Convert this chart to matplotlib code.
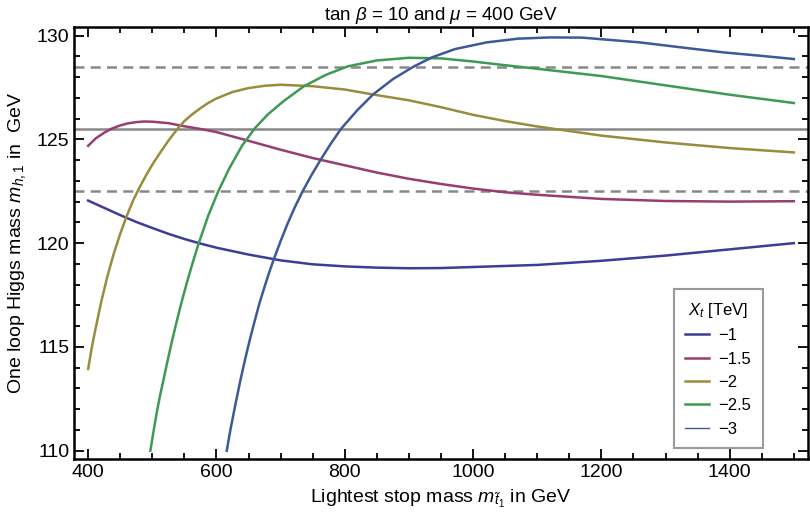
import numpy as np
import matplotlib.pyplot as plt
from matplotlib.ticker import MultipleLocator

plt.rcParams['font.family'] = ['Liberation Sans', 'DejaVu Sans']
plt.rcParams['mathtext.fontset'] = 'custom'
plt.rcParams['mathtext.rm'] = 'Liberation Sans'
plt.rcParams['mathtext.it'] = 'Liberation Sans:italic'

# X_t = -1
x_m1 = [400, 425, 450, 475, 500, 525, 550, 575, 600, 650, 700, 750, 800, 850, 900, 950, 1000, 1100, 1200, 1300,
        1400, 1500]
y_m1 = [122.05, 121.7, 121.35, 121.02, 120.73, 120.45, 120.2, 119.98, 119.78, 119.45, 119.17, 118.98, 118.88, 118.82,
        118.79, 118.8, 118.85, 118.95, 119.15, 119.4, 119.7, 120.0]

# X_t = -1.5
x_m15 = [400, 412, 425, 437, 450, 462, 475, 487, 500, 525, 550, 575, 600, 650, 700, 750, 800, 850, 900, 950, 1000,
         1050, 1100, 1200, 1300, 1400, 1500]
y_m15 = [124.69, 125.05, 125.32, 125.52, 125.67, 125.77, 125.83, 125.86, 125.85, 125.78, 125.63, 125.5, 125.35,
         124.93, 124.5, 124.1, 123.75, 123.4, 123.1, 122.85, 122.63, 122.45, 122.33, 122.13, 122.03, 122.0, 122.02]

# X_t = -2
x_m2 = [400, 405, 410, 420, 430, 440, 450, 460, 470, 480, 490, 500, 512, 525, 539, 550, 562, 575, 587, 600, 625,
        650, 675, 700, 750, 800, 850, 900, 950, 1000, 1050, 1100, 1150, 1200, 1300, 1400, 1500]
y_m2 = [113.94, 114.85, 115.65, 117.12, 118.4, 119.5, 120.45, 121.3, 122.05, 122.68, 123.25, 123.78, 124.35, 124.93,
        125.5, 125.88, 126.2, 126.5, 126.75, 126.97, 127.28, 127.47, 127.58, 127.63, 127.56, 127.4, 127.13, 126.88,
        126.55, 126.18, 125.88, 125.62, 125.4, 125.18, 124.85, 124.58, 124.37]

# X_t = -2.5
x_m25 = [497, 502, 507, 512, 517, 523, 530, 537, 545, 553, 562, 572, 587, 603, 620, 640, 660, 680, 705, 736, 770,
         805, 850, 900, 950, 1000, 1050, 1100, 1200, 1300, 1400, 1500]
y_m25 = [110.0, 110.95, 111.85, 112.65, 113.35, 114.22, 115.19, 116.1, 117.08, 118.0, 118.96, 119.96, 121.31,
         122.51, 123.6, 124.7, 125.54, 126.2, 126.85, 127.55, 128.1, 128.52, 128.8, 128.93, 128.9, 128.75, 128.57,
         128.4, 128.05, 127.6, 127.15, 126.75]

# X_t = -3
x_m3 = [616, 622, 630, 637, 645, 652, 660, 667, 675, 682, 689, 700, 711, 722, 734, 748, 762, 778, 794, 820, 844,
        875, 907, 936, 972, 1021, 1070, 1120, 1170, 1260, 1330, 1390, 1450, 1500]
y_m3 = [110.0, 111.05, 112.3, 113.35, 114.45, 115.35, 116.3, 117.1, 117.9, 118.57, 119.19, 120.1, 120.95, 121.72,
        122.48, 123.27, 124.0, 124.78, 125.5, 126.42, 127.16, 127.9, 128.5, 128.95, 129.35, 129.67, 129.85, 129.91,
        129.9, 129.67, 129.41, 129.19, 129.02, 128.87]

labels = ["\u22121", "\u22121.5", "\u22122", "\u22122.5", "\u22123"]
colors = ["#3D3D99", "#993D71", "#998C3D", "#3D9954", "#3D5999"]

higgs = 125.5
band = [122.5, 128.5]

fig = plt.figure(figsize=(8.1, 5.24), dpi=100)
ax = fig.add_axes([0.0914, 0.124, 0.9061, 0.824])

ax.axhline(higgs, color='#888888', lw=1.8, zorder=1)
for b in band:
    ax.axhline(b, color='#888888', lw=1.8, ls=(0, (4, 2.5)), zorder=1)

series = [(x_m1, y_m1), (x_m15, y_m15), (x_m2, y_m2), (x_m25, y_m25), (x_m3, y_m3)]
for (xs, ys), c, lab in zip(series, colors, labels):
    ax.plot(xs, ys, color=c, lw=1.8, label=lab, zorder=2)

ax.set_xlim(378, 1522)
ax.set_ylim(109.6, 130.4)
ax.xaxis.set_major_locator(MultipleLocator(200))
ax.xaxis.set_minor_locator(MultipleLocator(50))
ax.yaxis.set_major_locator(MultipleLocator(5))
ax.yaxis.set_minor_locator(MultipleLocator(1))
ax.tick_params(which='both', direction='in', top=True, right=True, width=1.3, labelsize=14)
ax.tick_params(which='major', length=7)
ax.tick_params(which='minor', length=4)
for s in ax.spines.values():
    s.set_linewidth(1.8)

ax.set_title(r"tan $\beta$ = 10 and $\mu$ = 400 GeV", fontsize=13.5, pad=5)
ax.set_xlabel(r"Lightest stop mass $m_{\tilde{t}_1}$ in GeV", fontsize=14, labelpad=5)
ax.set_ylabel(r"One loop Higgs mass $m_{h,1}$ in  GeV", fontsize=14, labelpad=6)

leg = ax.legend(title=r"$X_t$ [TeV]", loc='lower right', bbox_to_anchor=(0.939, 0.025),
                borderaxespad=0, fontsize=12, title_fontsize=12, fancybox=False, framealpha=1,
                edgecolor='#999999', handlelength=1.4, handletextpad=0.6, borderpad=0.7,
                labelspacing=0.5)
leg.get_frame().set_linewidth(1.5)
leg.get_lines()[-1].set_linewidth(1.0)

fig.savefig("out.png", dpi=100)
